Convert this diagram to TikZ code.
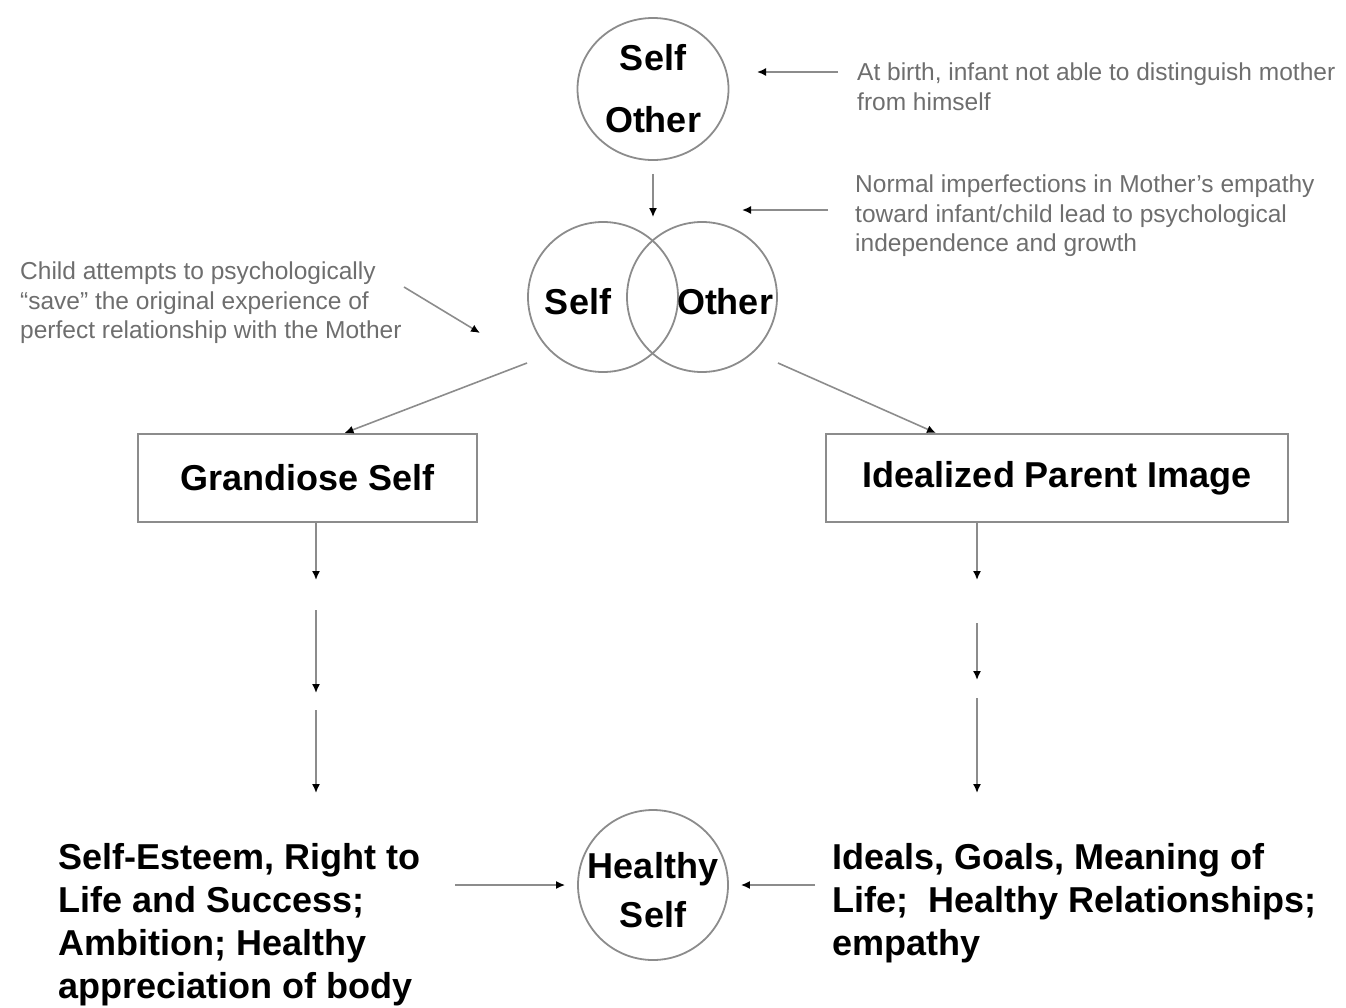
\documentclass[tikz,border=0pt]{standalone}
\usepackage{fontspec}
\setmainfont{Liberation Sans}
\usetikzlibrary{arrows.meta, shapes.geometric}
\definecolor{linegray}{HTML}{8C8C8C}
\definecolor{notegray}{HTML}{6E6E6E}

\begin{document}
\begin{tikzpicture}[x=1pt, y=-1pt,
  ring/.style={draw=linegray, line width=1.8pt, inner sep=0pt},
  bigtext/.style={font=\bfseries\fontsize{36}{43}\selectfont},
  note/.style={text=notegray, font=\fontsize{24.5}{29.5}\selectfont, align=left, inner sep=0pt, anchor=north west},
  stagebox/.style={draw=linegray, line width=2pt, minimum height=88pt, bigtext},
  arr/.style={draw=linegray, line width=1.6pt, -{Latex[length=9pt,width=8pt,color=black]}}]
\useasboundingbox (0,0) rectangle (1346,1007);
% Self and other still one
\node[ring, ellipse, minimum width=151pt, minimum height=142pt, align=center, font=\bfseries\fontsize{36}{62}\selectfont] (merged) at (653,89) {Self\\Other};
% Self and other apart
\node[ring, circle, minimum size=150pt] (selfring) at (603,297) {};
\node[ring, circle, minimum size=150pt] (otherring) at (702,297) {};
\node[bigtext] (selflbl) at (578,302) {Self};
\node[bigtext] (otherlbl) at (725,302) {Other};
% Two poles
\node[stagebox, minimum width=339pt] (grand) at (307.5,478) {Grandiose Self};
\node[stagebox, minimum width=462pt] (ideal) at (1057,478) {Idealized Parent Image};
% Outcome
\node[ring, circle, minimum size=150pt] (healthy) at (653,885) {};
\node[align=center, font=\bfseries\fontsize{36}{49}\selectfont] (healthylbl) at (653,890) {Healthy\\Self};
\node[bigtext, align=left, inner sep=0pt, anchor=north west] (esteem) at (58,843) {Self-Esteem, Right to\\Life and Success;\\Ambition; Healthy\\appreciation of body};
\node[bigtext, align=left, inner sep=0pt, anchor=north west] (ideals) at (832,843) {Ideals, Goals, Meaning of\\Life;\ \ Healthy Relationships;\\empathy};
% Side notes
\node[note] (birth) at (857,63) {At birth, infant not able to distinguish mother\\from himself};
\node[note] (imperf) at (855,175) {Normal imperfections in Mother’s empathy\\toward infant/child lead to psychological\\independence and growth};
\node[note] (save) at (20,262) {Child attempts to psychologically\\“save” the original experience of\\perfect relationship with the Mother};
% Note arrows
\coordinate (birthtail) at (838,72);
\coordinate (birthtip) at (757,72);
\coordinate (imperftail) at (828,210);
\coordinate (imperftip) at (742,210);
\coordinate (savetail) at (404,287);
\coordinate (savetip) at (480,333);
\draw[arr] (birthtail) -- (birthtip);
\draw[arr] (imperftail) -- (imperftip);
\draw[arr] (savetail) -- (savetip);
% Main arrows
\draw[arr] ([yshift=-13pt]merged.south) -- ([yshift=4pt]merged.south |- selfring.north);
\coordinate (splitL) at (527,363);
\coordinate (splitR) at (778,363);
\draw[arr] (splitL) -- ([xshift=37pt]grand.north);
\draw[arr] (splitR) -- ([xshift=-121pt]ideal.north);
\foreach \i/\ya/\yb in {1/522/580, 2/610/693, 3/710/793} {
  \coordinate (gs\i) at (316,\ya);
  \coordinate (ge\i) at (316,\yb);
  \draw[arr] (gs\i) -- (ge\i);
}
\foreach \i/\ya/\yb in {1/522/580, 2/623/680, 3/698/793} {
  \coordinate (is\i) at (977,\ya);
  \coordinate (ie\i) at (977,\yb);
  \draw[arr] (is\i) -- (ie\i);
}
\coordinate (esteemtail) at (455,885);
\coordinate (idealstail) at (815,885);
\draw[arr] (esteemtail) -- ([xshift=-12pt]healthy.west);
\draw[arr] (idealstail) -- ([xshift=12pt]healthy.east);
\end{tikzpicture}
\end{document}
